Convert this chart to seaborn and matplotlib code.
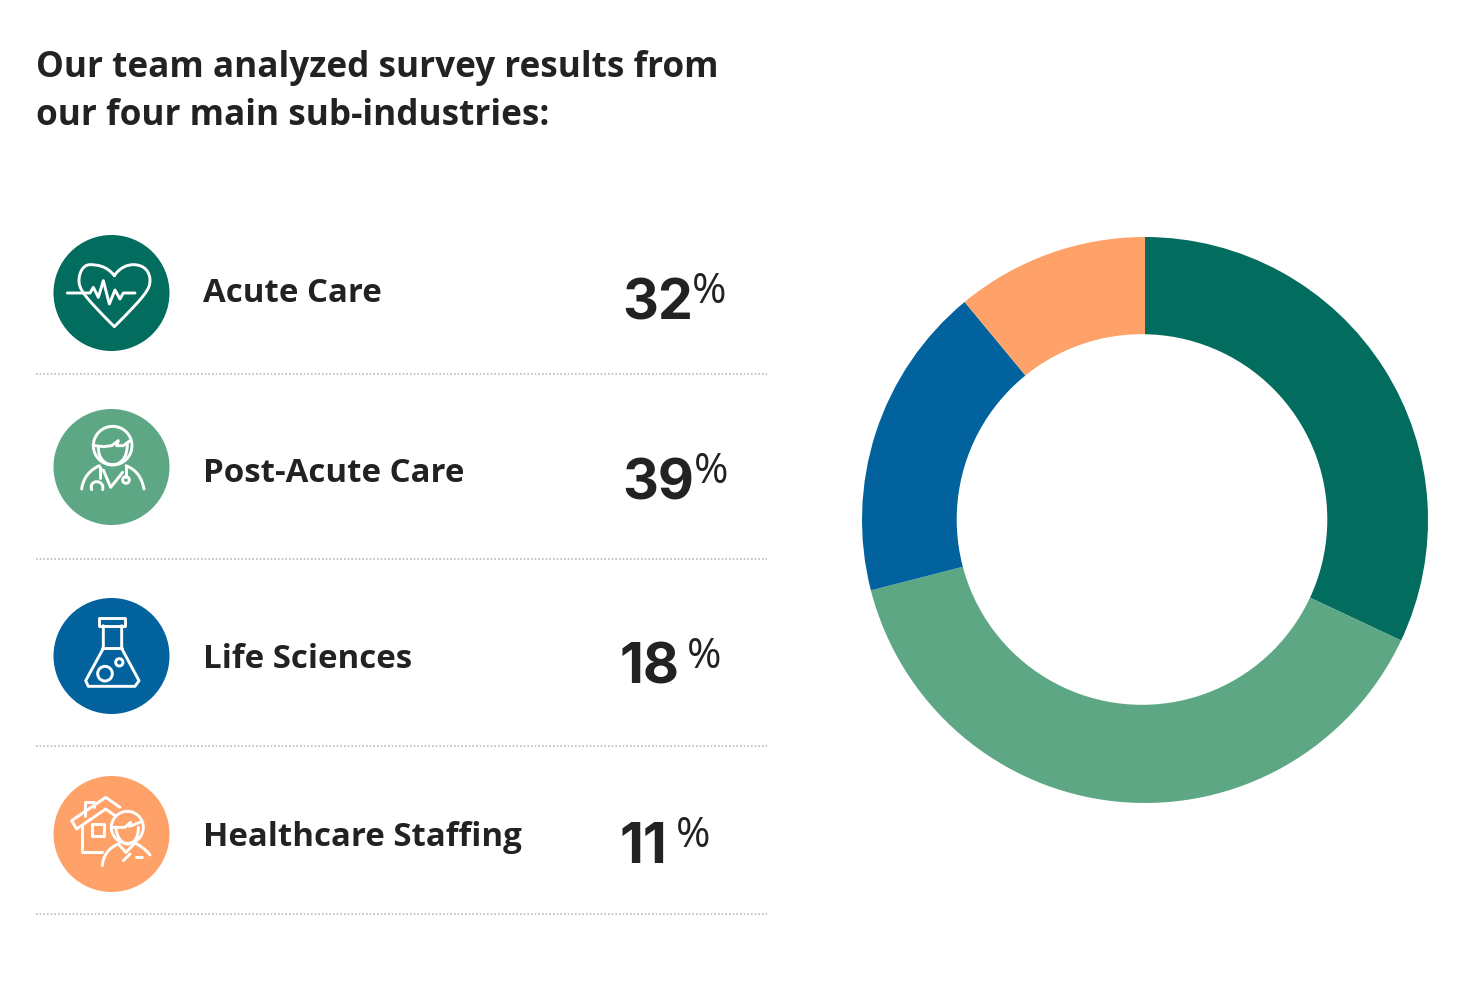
import matplotlib
matplotlib.use("Agg")
import matplotlib.pyplot as plt
from matplotlib.patches import Circle, PathPatch
from matplotlib.path import Path
import seaborn as sns

# data
categories = ["Acute Care", "Post-Acute Care", "Life Sciences", "Healthcare Staffing"]
shares = [32, 39, 18, 11]
colors = ["#026c5e", "#5ea785", "#01629e", "#fea269"]

sns.set_theme(style="white")
plt.rcParams["font.family"] = ["Open Sans", "DejaVu Sans"]

W, H = 1460, 987
fig = plt.figure(figsize=(W / 100, H / 100), dpi=100)

# shifted 1px so pixel coordinates read the same as the reference
ax = fig.add_axes([0, 0, 1, 1], zorder=2)
ax.set_xlim(0, W)
ax.set_ylim(H - 1, -1)
ax.axis("off")
ax.patch.set_alpha(0)

ink = "#222222"
ax.text(36, 67, "Our team analyzed survey results from", fontsize=25.3, fontweight="bold", color=ink, va="center")
ax.text(36, 115, "our four main sub-industries:", fontsize=25.3, fontweight="bold", color=ink, va="center")

icon_y = [293, 467, 656, 834]
label_y = [293, 473, 659, 836]
pct_x = [622, 622, 620, 620]
pct_y = [303, 483, 668, 847]
sign_x = [692, 694, 687, 676]
rule_y = [374, 559, 746, 914]

for name, v, c, iy, ly, px, py, sx, ry in zip(categories, shares, colors, icon_y, label_y, pct_x, pct_y, sign_x, rule_y):
    ax.add_patch(Circle((111.5, iy), 58, color=c, lw=0))
    ax.text(203, ly, name, fontsize=23.8, fontweight="bold", color=ink, va="center")
    ax.text(px, py, str(v), fontsize=40, fontweight="bold", color=ink, va="center", family=["Inter"])
    ax.text(sx, py - 12, "%", fontsize=30, color=ink, va="center")
    ax.plot([36, 767], [ry, ry], color="#bbbbbb", lw=1.2, ls=(0, (1, 1.2)))


def stroke(pts, curved=False, closed=False, ox=40, oy=224):
    pts = [(ox + x / 3, oy + y / 3) for x, y in pts]
    if curved:
        codes = [Path.MOVETO] + [Path.CURVE4] * (len(pts) - 1)
    else:
        codes = [Path.MOVETO] + [Path.LINETO] * (len(pts) - 1)
    if closed:
        pts = pts + [pts[0]]
        codes = codes + [Path.CLOSEPOLY]
    ax.add_patch(PathPatch(Path(pts, codes), fill=False, ec="white", lw=2.1,
                           capstyle="round", joinstyle="round"))


def ring(x, y, r, ox=40, oy=224):
    ax.add_patch(Circle((ox + x / 3, oy + y / 3), r / 3, fill=False, ec="white", lw=2.1))


# heart with pulse
stroke([(223, 155), (200, 125), (170, 122), (150, 122), (130, 122), (117, 145), (117, 170),
        (117, 195), (130, 215), (223, 308), (316, 215), (330, 195), (330, 170),
        (330, 145), (315, 122), (280, 122), (262, 122), (240, 130), (223, 155)], curved=True)
stroke([(82, 207), (150, 207), (160, 190), (175, 220), (190, 170), (208, 240), (225, 198), (240, 225), (250, 207), (285, 207)])

# doctor
ring(218, 665, 58)
stroke([(165, 665), (190, 668), (215, 665), (235, 650), (230, 665), (250, 665), (270, 650)])
stroke([(175, 670), (175, 705), (195, 722), (218, 722), (240, 722), (262, 705), (262, 660)], curved=True)
stroke([(125, 795), (130, 760), (150, 738), (178, 725)], curved=True)
stroke([(312, 795), (305, 760), (290, 738), (258, 725)], curved=True)
stroke([(190, 738), (212, 790), (248, 745)])
stroke([(180, 730), (180, 762)])
stroke([(155, 797), (145, 765), (195, 765), (188, 797)], curved=True)
stroke([(258, 730), (258, 758)])
ring(258, 768, 10)

# flask
oy2 = 589
stroke([(178, 88), (255, 88), (255, 110), (178, 110)], closed=True, oy=oy2)
stroke([(190, 110), (190, 178), (137, 275), (145, 292), (285, 292), (297, 275), (245, 178), (245, 110)], oy=oy2)
stroke([(187, 178), (245, 178)], oy=oy2)
ring(195, 254, 22, oy=oy2)
ring(238, 220, 11, oy=oy2)

# house with person
stroke([(240, 655), (197, 625), (95, 695), (110, 720), (197, 660), (225, 680)], oy=oy2)
stroke([(135, 680), (135, 640), (162, 640), (162, 655)], oy=oy2)
stroke([(125, 710), (125, 788), (185, 788)], oy=oy2)
stroke([(157, 705), (192, 705), (192, 740), (157, 740)], closed=True, oy=oy2)
ring(262, 715, 48, oy=oy2)
stroke([(215, 715), (255, 715), (272, 700), (268, 712), (300, 700)], oy=oy2)
stroke([(228, 720), (232, 750), (250, 765), (262, 765), (280, 765), (295, 750), (295, 715)], curved=True, oy=oy2)
stroke([(187, 830), (190, 795), (210, 775), (235, 765)], curved=True, oy=oy2)
stroke([(330, 798), (315, 778), (300, 770), (285, 762)], curved=True, oy=oy2)
stroke([(235, 765), (258, 790), (285, 762)], oy=oy2)
stroke([(250, 815), (270, 795)], oy=oy2)
stroke([(287, 805), (307, 805)], oy=oy2)

# donut on its own axes
cx, cy, R = 1145, 521, 283
pie_ax = fig.add_axes([(cx - R) / W, 1 - (cy + R) / H, 2 * R / W, 2 * R / H], zorder=1)
pie_ax.pie(shares, colors=colors, startangle=90, counterclock=False, radius=1,
           wedgeprops=dict(width=110 / 283, linewidth=0))
pie_ax.set_xlim(-1, 1)
pie_ax.set_ylim(-1, 1)

# hole sits a little left of the ring's centre in the original
ax.add_patch(Circle((1142, 519.5), 185.3, color="white", lw=0))

fig.savefig("out.png", dpi=100, facecolor="white")
